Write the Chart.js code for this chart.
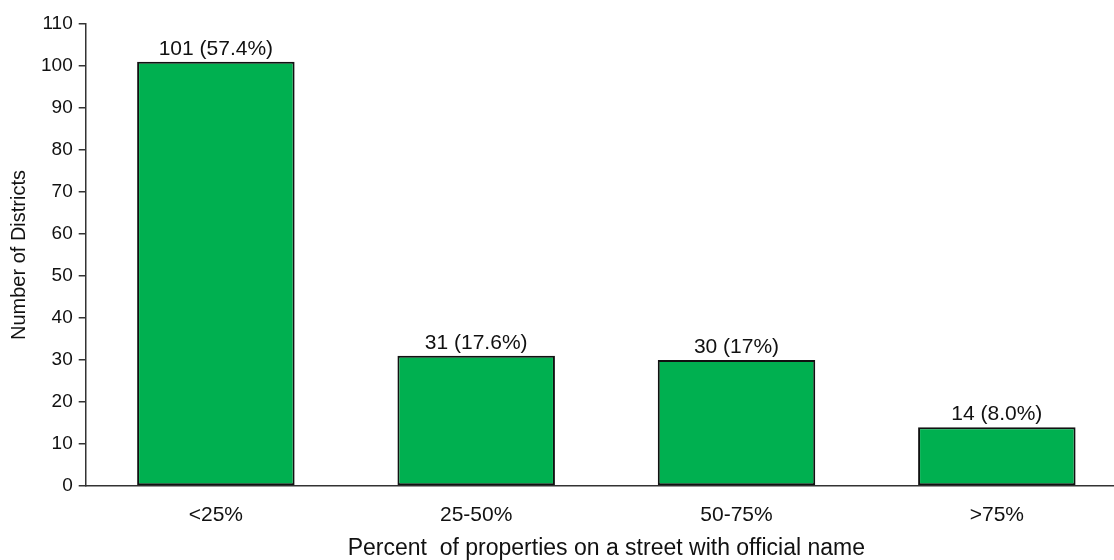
<!DOCTYPE html>
<html>
<head>
<meta charset="utf-8">
<script src="https://cdn.jsdelivr.net/npm/chart.js@4/dist/chart.umd.min.js"></script>
<style>
  html, body { margin: 0; padding: 0; background: #fff; overflow: hidden; }
  /* source chart is cropped on the right, so the canvas runs past the window */
  #wrap { width: 1127px; height: 560px; position: relative; }
</style>
</head>
<body>
<div id="wrap"><canvas id="chart"></canvas></div>
<script>
// Districts by share of properties on a named street
const categories = ['<25%', '25-50%', '50-75%', '>75%'];
const districts = [101, 31, 30, 14];
const shareText = ['57.4%', '17.6%', '17%', '8.0%'];
const yTicks = { min: 0, max: 110, step: 10 };

const FONT = "'Liberation Sans', Arial, sans-serif";

// labels above bars: "101 (57.4%)"
const barLabels = {
    id: 'barLabels',
    afterDatasetsDraw(chart) {
        const ctx = chart.ctx;
        const meta = chart.getDatasetMeta(0);
        ctx.save();
        ctx.font = '21px ' + FONT;
        ctx.fillStyle = '#111';
        ctx.textAlign = 'center';
        ctx.textBaseline = 'bottom';
        meta.data.forEach((bar, i) => {
            ctx.fillText(districts[i] + ' (' + shareText[i] + ')', bar.x, bar.y - 2);
        });
        ctx.restore();
    }
};

new Chart(document.getElementById('chart').getContext('2d'), {
    type: 'bar',
    data: {
        labels: categories,
        datasets: [{
            data: districts,
            backgroundColor: '#00b050',
            borderColor: '#111',
            borderWidth: 2,
            borderSkipped: false,
            categoryPercentage: 1,
            barPercentage: 0.605
        }]
    },
    options: {
        responsive: true,
        maintainAspectRatio: false,
        animation: false,
        layout: { padding: { top: 24, right: 0, left: 7, bottom: 0 } },
        plugins: {
            legend: { display: false },
            tooltip: { enabled: false }
        },
        scales: {
            x: {
                grid: { display: false },
                border: { display: true, color: '#333', width: 1.5 },
                ticks: { color: '#111', font: { family: FONT, size: 21, lineHeight: 1 }, padding: 11 },
                title: {
                    display: true,
                    text: 'Percent  of properties on a street with official name',
                    color: '#111',
                    font: { family: FONT, size: 23, lineHeight: 1 },
                    padding: { top: 0, bottom: 0 }
                }
            },
            y: {
                min: yTicks.min,
                max: yTicks.max,
                grid: { display: true, drawOnChartArea: false, drawTicks: true, tickLength: 7, color: '#333', lineWidth: 1.5 },
                border: { display: true, color: '#333', width: 1.5 },
                ticks: { stepSize: yTicks.step, color: '#111', font: { family: FONT, size: 19 }, padding: 6 },
                title: {
                    display: true,
                    text: 'Number of Districts',
                    color: '#111',
                    font: { family: FONT, size: 20 },
                    padding: { top: 0, bottom: 4 }
                }
            }
        }
    },
    plugins: [barLabels]
});
</script>
</body>
</html>
